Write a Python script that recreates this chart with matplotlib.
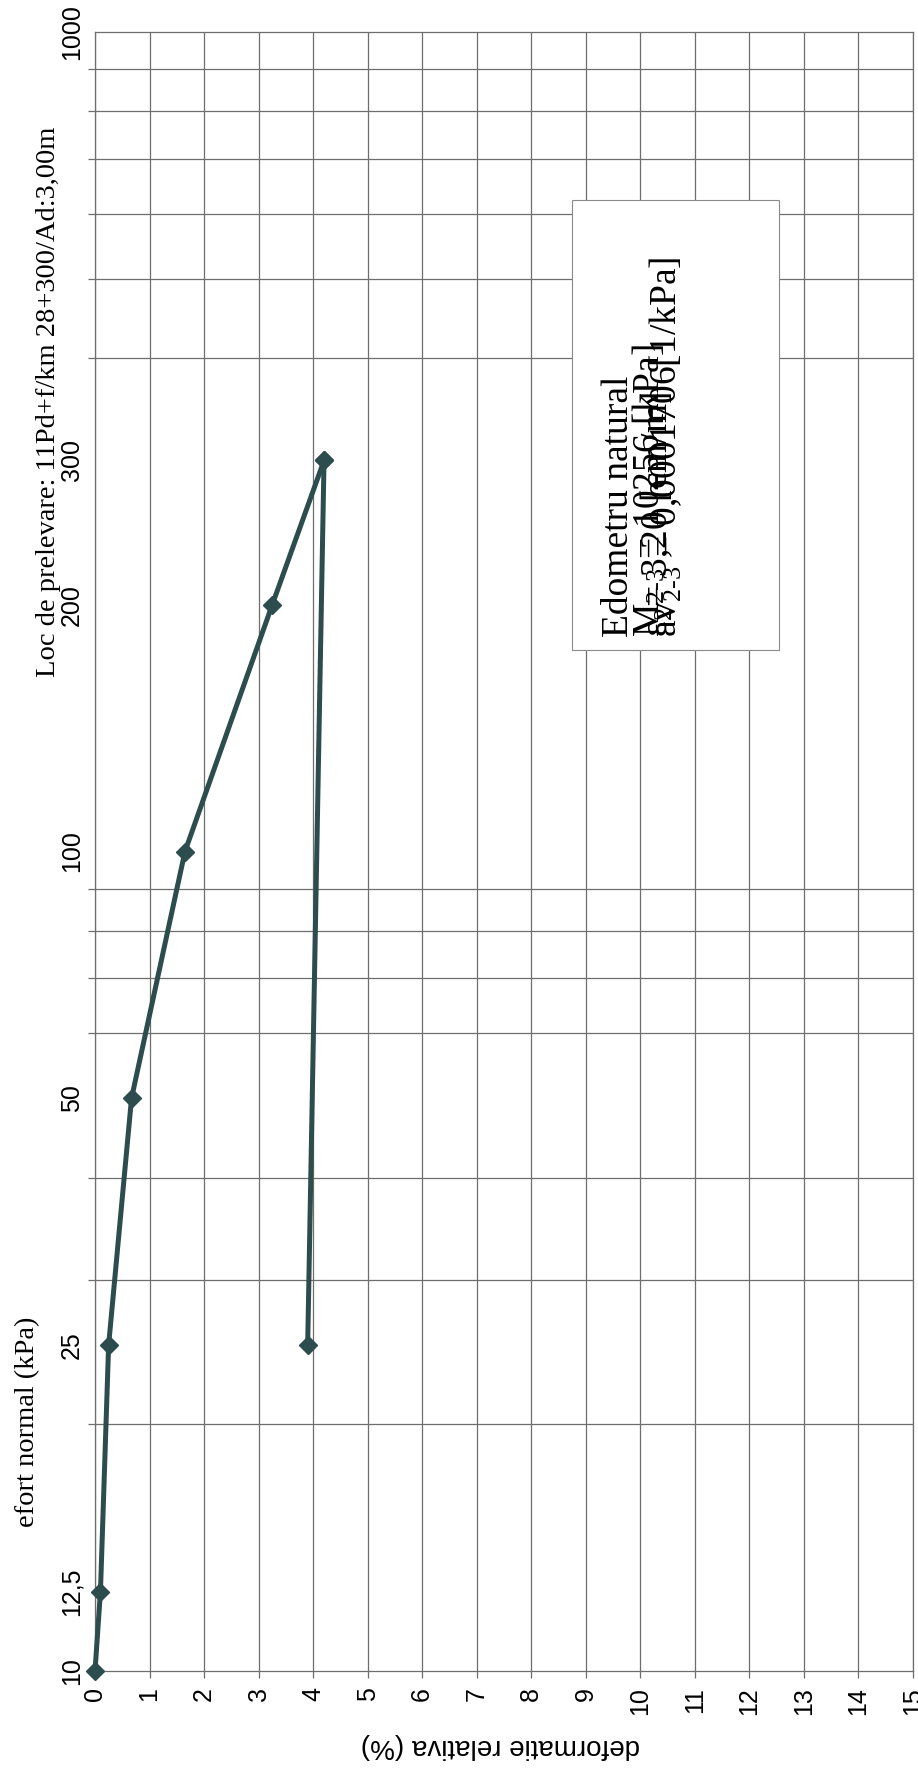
import matplotlib
matplotlib.use('Agg')
import matplotlib.pyplot as plt
from matplotlib.ticker import FixedLocator, NullFormatter
from matplotlib.patches import Rectangle

# curba de compresiune (incarcare / descarcare)
effort_load = [10, 12.5, 25, 50, 100, 200, 300]
deform_load = [0, 0.1, 0.25, 0.67, 1.65, 3.25, 4.2]
effort_unload = [300, 25]
deform_unload = [4.2, 3.9]

y_ticks = [10, 12.5, 25, 50, 100, 200, 300, 1000]
y_tick_labels = ['10', '12,5', '25', '50', '100', '200', '300', '1000']
y_grid = [10, 20, 30, 40, 50, 60, 70, 80, 90,
          100, 200, 300, 400, 500, 600, 700, 800, 900, 1000]
x_ticks = list(range(16))

box_lines = [
    'Edometru natural',
    r'M$_{2\text{-}3}$ = 10256 [kPa]',
    r'ε$_2$= 3,20 [cm/m]',
    r'av$_{2\text{-}3}$ = 0,0001706[1/kPa]',
]

plt.rcParams['mathtext.fontset'] = 'custom'
plt.rcParams['mathtext.rm'] = 'Liberation Serif'
plt.rcParams['mathtext.it'] = 'Liberation Serif:italic'

W, H = 918, 1770


def px(x, y):
    return x / W, 1 - y / H


line_col = '#2c4c4e'
grid_col = '#6e6e6e'

fig = plt.figure(figsize=(W / 100, H / 100), dpi=100)
ax = fig.add_axes([95 / W, 1 - 1671 / H, 818 / W, 1639 / H])

ax.set_xlim(0, 15)
ax.set_yscale('log')
ax.set_ylim(10, 1000)

ax.plot(deform_load, effort_load, color=line_col, lw=3.6, marker='D', ms=9,
        clip_on=False, zorder=3)
ax.plot(deform_unload, effort_unload, color=line_col, lw=3.6, marker='D', ms=9,
        clip_on=False, zorder=3)

ax.set_xticks(x_ticks)
ax.set_xticklabels([str(v) for v in x_ticks])
ax.set_yticks(y_ticks)
ax.set_yticklabels(y_tick_labels)
ax.yaxis.set_minor_locator(FixedLocator(y_grid))
ax.yaxis.set_minor_formatter(NullFormatter())

ax.xaxis.grid(True, which='major', color=grid_col, lw=0.9)
ax.yaxis.grid(True, which='minor', color=grid_col, lw=0.9)
ax.yaxis.grid(False, which='major')

ax.tick_params(axis='x', which='major', length=5, width=0.9, color=grid_col,
               pad=6.5, labelsize=18, labelrotation=90)
ax.tick_params(axis='y', which='major', length=0, pad=8, labelsize=18,
               labelrotation=90)
ax.tick_params(axis='y', which='minor', length=5, width=0.9, color=grid_col)
for lab in ax.get_xticklabels() + ax.get_yticklabels():
    lab.set_family('Liberation Sans')
for lab in ax.get_yticklabels():
    lab.set_va('center')
for s in ax.spines.values():
    s.set_color(grid_col)
    s.set_linewidth(0.9)

fig.text(*px(500, 1746), 'deformatie relativa (%)', rotation=180,
         ha='center', va='center', fontsize=20, family='Liberation Sans')
fig.text(*px(34, 1527), 'efort normal (kPa)', rotation=90, rotation_mode='anchor',
         ha='left', va='baseline', fontsize=20.5, family='Liberation Serif')
fig.text(*px(55, 677), 'Loc de prelevare: 11Pd+f/km 28+300/Ad:3,00m', rotation=90,
         rotation_mode='anchor', ha='left', va='baseline', fontsize=20.5,
         family='Liberation Serif')

# caseta cu rezultate
fig.add_artist(Rectangle(px(572, 650), 207 / W, 450 / H, transform=fig.transFigure,
                         fc='white', ec='#8a8a8a', lw=0.8, zorder=5))
for txt, xb in zip(box_lines, [628, 660, 667, 676]):
    fig.text(*px(xb, 637), txt, rotation=90, rotation_mode='anchor', ha='left',
             va='baseline', fontsize=27, family='Liberation Serif', zorder=6)

fig.savefig('out.png', dpi=100)
